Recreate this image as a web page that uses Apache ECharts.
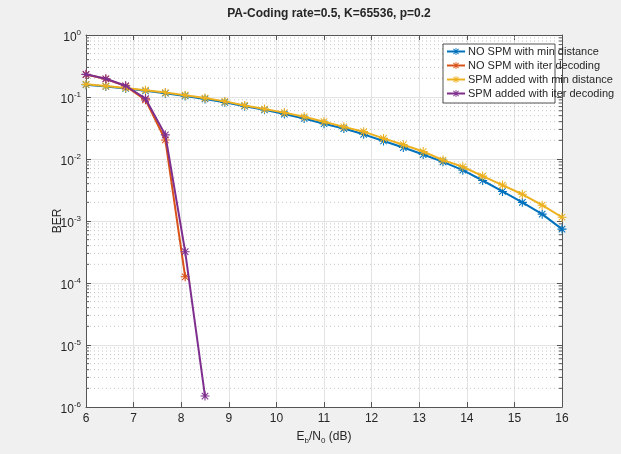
<!DOCTYPE html>
<html><head><meta charset="utf-8">
<script src="https://cdn.jsdelivr.net/npm/echarts@6/dist/echarts.min.js"></script>
<style>html,body{margin:0;padding:0;background:#f0f0f0}#c{width:621px;height:454px}</style>
</head><body><div id="c"></div>
<script>
const xFull = [6,6.4167,6.8333,7.25,7.6667,8.0833,8.5,8.9167,9.3333,9.75,10.1667,10.5833,11,11.4167,11.8333,12.25,12.6667,13.0833,13.5,13.9167,14.3333,14.75,15.1667,15.5833,16];
const noSpmMin = [0.158,0.148,0.137,0.126,0.115,0.104,0.093,0.082,0.071,0.062,0.053,0.045,0.037,0.031,0.025,0.0195,0.0153,0.0118,0.0090,0.0066,0.0045,0.0030,0.0020,0.00129,0.00074];
const spmMin = [0.160,0.150,0.140,0.129,0.118,0.107,0.096,0.085,0.073,0.064,0.056,0.048,0.040,0.033,0.0276,0.0215,0.017,0.0132,0.0096,0.0075,0.0053,0.0038,0.0027,0.0018,0.00115];
const xIterNo = [6,6.4167,6.8333,7.25,7.6667,8.0833];
const noSpmIter = [0.23,0.195,0.15,0.09,0.0203,0.000126];
const xIterSpm = [6,6.4167,6.8333,7.25,7.6667,8.0833,8.5];
const spmIter = [0.232,0.197,0.152,0.094,0.0245,0.00032,0.0000015];
const names = ['NO SPM with min distance','NO SPM with iter decoding','SPM added with min distance','SPM added with iter decoding'];
const colors = ['#0072BD','#D95319','#EDB120','#7E2F8E'];
const title = 'PA-Coding rate=0.5, K=65536, p=0.2';

const minorY = [];
for (let k=-6;k<0;k++) for (let m=2;m<=9;m++) minorY.push(m*Math.pow(10,k));

const star = 'path://M4.4,0L5.6,0L5.6,10L4.4,10Z M0,4.4L10,4.4L10,5.6L0,5.6Z M1.0,1.8L1.8,1.0L9.0,8.2L8.2,9.0Z M8.2,1.0L9.0,1.8L1.8,9.0L1.0,8.2Z';
const zip = (xs, ys) => xs.map((x,i)=>[x,ys[i]]);
const font = 'Liberation Sans, Arial, sans-serif';

function mk(i, xs, ys) {
  return {
    name: names[i], type: 'line', data: zip(xs, ys),
    symbol: star, symbolSize: 9, showSymbol: true,
    lineStyle: {width: 2, color: colors[i]},
    itemStyle: {color: colors[i]},
    animation: false, z: 3 + i
  };
}

const chart = echarts.init(document.getElementById('c'), null, {renderer: 'canvas'});
chart.setOption({
  backgroundColor: '#f0f0f0',
  animation: false,
  title: {text: title, left: 324, textAlign: 'center', top: 3,
    textStyle: {fontFamily: font, fontSize: 12, fontWeight: 'bold', color: '#262626'}},
  grid: {left: 86, right: 59, top: 35, bottom: 47, show: true, backgroundColor: '#ffffff', borderWidth: 0},
  legend: {
    orient: 'vertical', left: 446, top: 46, itemGap: 3, itemWidth: 18, itemHeight: 9,
    data: names, textStyle: {fontFamily: font, fontSize: 11, color: '#262626', padding: [0,0,0,-2]},
    padding: 0, backgroundColor: 'transparent', z: 20
  },
  graphic: [{type: 'rect', shape: {x: 443, y: 44, width: 112, height: 59}, z: 15,
    style: {fill: '#ffffff', stroke: '#262626', lineWidth: 0.8}}],
  xAxis: [{
    type: 'value', min: 6, max: 16, interval: 1,
    name: '{n|E}{s|b}{n|/N}{s|0}{n| (dB)}', nameLocation: 'middle', nameGap: 22,
    nameTextStyle: {rich: {n: {fontFamily: font, fontSize: 12, color: '#262626'}, s: {fontFamily: font, fontSize: 8, color: '#262626', padding: [8,0,0,0]}}},
    axisLine: {lineStyle: {color: '#555', width: 1}},
    axisTick: {inside: true, length: 5, lineStyle: {color: '#555'}},
    axisLabel: {fontFamily: font, fontSize: 12, color: '#262626', margin: 6},
    splitLine: {show: true, lineStyle: {color: '#e3e3e3', width: 1}}
  }, {
    type: 'value', min: 6, max: 16, interval: 1, position: 'top',
    axisLine: {show: true, lineStyle: {color: '#555', width: 1}},
    axisTick: {inside: true, length: 5, lineStyle: {color: '#555'}},
    axisLabel: {show: false}, splitLine: {show: false}
  }],
  yAxis: [{
    type: 'log', logBase: 10, min: 1e-6, max: 1, splitNumber: 6,
    name: 'BER', nameLocation: 'middle', nameGap: 22, nameMoveOverlap: false,
    nameTextStyle: {fontFamily: font, fontSize: 12, color: '#262626'},
    axisLine: {show: true, lineStyle: {color: '#555', width: 1}},
    axisTick: {inside: true, length: 5, lineStyle: {color: '#555'}},
    axisLabel: {
      margin: 5,
      formatter: v => '{b|10}{s|' + Math.round(Math.log10(v)) + '}',
      rich: {b: {fontFamily: font, fontSize: 12, color: '#262626', padding: [6,0,0,0]},
             s: {fontFamily: font, fontSize: 8, color: '#262626', padding: [0,0,4,0]}}
    },
    splitLine: {show: true, lineStyle: {color: '#e3e3e3', width: 1}}
  }, {
    type: 'log', logBase: 10, min: 1e-6, max: 1, splitNumber: 6, position: 'right',
    axisLine: {show: true, lineStyle: {color: '#555', width: 1}},
    axisTick: {inside: true, length: 5, lineStyle: {color: '#555'}},
    axisLabel: {show: false}, splitLine: {show: false}
  }],
  series: [
    {
      type: 'custom', silent: true, z: 1, animation: false,
      data: minorY.map(v => [6, v]),
      renderItem: (params, api) => {
        const v = api.value(1);
        const a = api.coord([6, v]), b = api.coord([16, v]);
        return {type: 'group', children: [
          {type: 'line', shape: {x1: a[0], y1: a[1], x2: b[0], y2: b[1]},
           style: {stroke: '#c4c4c4', lineWidth: 1, lineDash: [1, 3]}},
          {type: 'line', shape: {x1: a[0], y1: a[1], x2: a[0] + 3, y2: a[1]},
           style: {stroke: '#555', lineWidth: 1}},
          {type: 'line', shape: {x1: b[0] - 3, y1: b[1], x2: b[0], y2: b[1]},
           style: {stroke: '#555', lineWidth: 1}}
        ]};
      }
    },
    mk(0, xFull, noSpmMin),
    mk(1, xIterNo, noSpmIter),
    mk(2, xFull, spmMin),
    mk(3, xIterSpm, spmIter)
  ]
});
</script>
</body></html>
